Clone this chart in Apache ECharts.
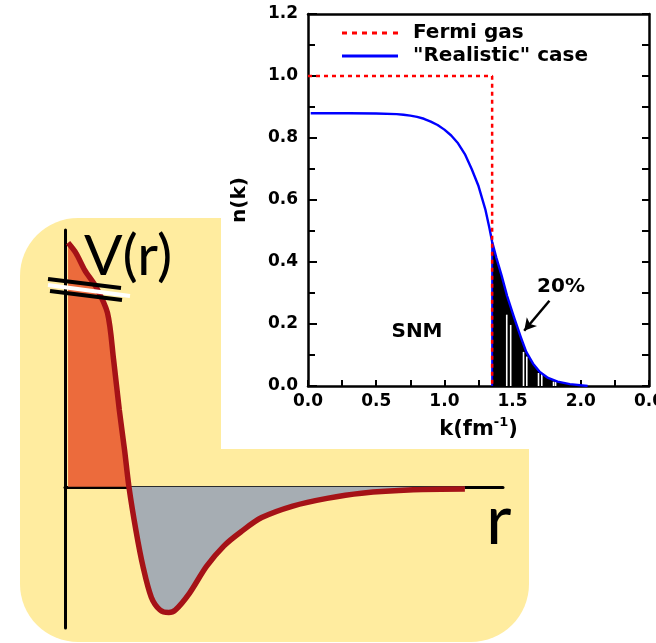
<!DOCTYPE html>
<html><head><meta charset="utf-8">
<script src="https://cdn.jsdelivr.net/npm/echarts@6/dist/echarts.min.js"></script>
<style>html,body{margin:0;padding:0;background:#fff;}#c{width:656px;height:643px;}</style>
</head><body><div id="c"></div>
<script>
// ---- n(k) panel data ----
const kValues = [0.02,0.3,0.5,0.65,0.70,0.75,0.80,0.85,0.90,0.95,1.00,1.05,1.10,1.15,1.20,1.25,1.30,1.33,1.35,1.38,1.42,1.46,1.51,1.56,1.60,1.65,1.70,1.76,1.83,1.92,2.05];
const nValues = [0.88,0.88,0.879,0.877,0.875,0.872,0.868,0.862,0.853,0.842,0.827,0.808,0.783,0.748,0.700,0.645,0.570,0.510,0.465,0.415,0.355,0.29,0.222,0.158,0.110,0.072,0.045,0.026,0.014,0.006,0.0];
const kFermi = 1.35;
const fermiK = [0, 1.35, 1.35];
const fermiN = [1, 1, 0];
const stripeK = [1.457,1.486,1.58,1.604,1.69,1.714,1.80,1.815];
const stripeN = [0.23,0.197,0.11,0.095,0.042,0.040,0.014,0.013];
const arrowFrom = [1.77, 0.275];
const arrowTo = [1.585, 0.178];
const xTickLabels = ['0.0','0.5','1.0','1.5','2.0','0.0'];
const yTickLabels = ['0.0','0.2','0.4','0.6','0.8','1.0','1.2'];
// ---- V(r) panel data (schematic) ----
const rValues = [0.07,0.25,0.45,0.71,0.97,1.11,1.24,1.36,1.46,1.62,1.78,1.97,2.17,2.37,2.52,2.84,3.23,3.63,4.02,4.49,5.2,5.98,6.77,7.95,9.13];
const vValues = [9.5,9.1,8.44,7.78,6.77,4.94,2.99,1.43,0,-1.7,-3.1,-4.3,-4.8,-4.9,-4.8,-4.15,-3.1,-2.3,-1.75,-1.2,-0.75,-0.45,-0.25,-0.12,-0.09];

const chart = echarts.init(document.getElementById('c'), null, {renderer:'canvas'});
const realistic = kValues.map((k,i)=>[k,nValues[i]]);
const tail = realistic.filter(p=>p[0]>=kFermi);
const iF = kValues.indexOf(kFermi);
const edge = [[kFermi,0],[kFermi,nValues[iF]]];
const fermi = fermiK.map((k,i)=>[k,fermiN[i]]);
const stripes = stripeK.map((k,i)=>[k,stripeN[i]]);
const pot = rValues.map((r,i)=>[r,vValues[i]]);
const potPos = pot.filter(p=>p[1]>=0);
const potNeg = pot.filter(p=>p[1]<=0);

const F = 'DejaVu Sans';
const axisLineStyle = {color:'#000', width:2.5};
const tickStyle = {color:'#000', width:2};
const dashIcon = 'path://M0,0h5v3h-5z M10,0h5v3h-5z M20,0h5v3h-5z M30,0h5v3h-5z M40,0h5v3h-5z M51,0h5v3h-5z';
const solidIcon = 'path://M0,0h56v3h-56z';

chart.setOption({
  animation:false,
  backgroundColor:'#fff',
  grid:[
    {left:308, top:14, width:341, height:372, outerBoundsMode:'none', containLabel:false},
    {left:65, top:230, width:438, height:398, outerBoundsMode:'none', containLabel:false}
  ],
  legend:{
    data:[{name:'Fermi gas', icon:dashIcon, itemStyle:{color:'#ff0000'}},
          {name:'"Realistic" case', icon:solidIcon, itemStyle:{color:'#0000ff'}}],
    orient:'vertical', left:342, top:23, padding:0,
    itemWidth:56, itemHeight:3, itemGap:3,
    formatter: name => '{t|' + name + '}',
    textStyle:{color:'#000', rich:{t:{fontFamily:F, fontWeight:'bold', fontSize:20, lineHeight:23, color:'#000', padding:[0,0,0,10]}}}
  },
  xAxis:[
    {gridIndex:0, type:'value', min:0, max:2.5, interval:0.5,
     axisLine:{onZero:false, lineStyle:axisLineStyle},
     axisTick:{inside:true, length:6, lineStyle:tickStyle},
     minorTick:{show:true, splitNumber:2, length:6, lineStyle:tickStyle},
     splitLine:{show:false},
     axisLabel:{formatter:v=>xTickLabels[Math.round(v/0.5)], color:'#000', fontFamily:F, fontWeight:'bold', fontSize:17, margin:7, hideOverlap:false},
     name:'{b|k(fm}{s|-1}{b|)}', nameLocation:'middle', nameGap:30,
     nameTextStyle:{rich:{
       b:{fontFamily:F, fontWeight:'bold', fontSize:21, color:'#000', lineHeight:28},
       s:{fontFamily:F, fontWeight:'bold', fontSize:13, color:'#000', verticalAlign:'top', lineHeight:14}
     }}
    },
    {gridIndex:0, type:'value', position:'top', min:0, max:2.5,
     axisLine:{onZero:false, lineStyle:axisLineStyle}, axisTick:{show:false}, axisLabel:{show:false}, splitLine:{show:false}},
    {gridIndex:1, type:'value', min:0, max:10,
     axisLine:{onZero:true, lineStyle:{color:'#000', width:3}}, axisTick:{show:false}, axisLabel:{show:false}, splitLine:{show:false}}
  ],
  yAxis:[
    {gridIndex:0, type:'value', min:0, max:1.2, interval:0.2,
     axisLine:{onZero:false, lineStyle:axisLineStyle},
     axisTick:{inside:true, length:9, lineStyle:tickStyle},
     minorTick:{show:true, splitNumber:2, length:7, lineStyle:tickStyle},
     splitLine:{show:false},
     axisLabel:{formatter:v=>yTickLabels[Math.round(v/0.2)], color:'#000', fontFamily:F, fontWeight:'bold', fontSize:17, margin:10},
     name:'n(k)', nameLocation:'middle', nameGap:58,
     nameTextStyle:{fontFamily:F, fontWeight:'bold', fontSize:20, color:'#000'}
    },
    {gridIndex:0, type:'value', position:'right', min:0, max:1.2, interval:0.1,
     axisLine:{onZero:false, lineStyle:axisLineStyle},
     axisTick:{inside:true, length:7, lineStyle:tickStyle},
     axisLabel:{show:false}, splitLine:{show:false}},
    {gridIndex:1, type:'value', min:-5.5, max:10,
     axisLine:{onZero:true, lineStyle:{color:'#000', width:3}}, axisTick:{show:false}, axisLabel:{show:false}, splitLine:{show:false}}
  ],
  series:[
    {type:'line', name:'tail', xAxisIndex:0, yAxisIndex:0, data:tail,
     symbol:'none', lineStyle:{width:0}, areaStyle:{color:'#000', opacity:1, origin:0}, z:2, silent:true},
    {type:'bar', name:'stripes', xAxisIndex:0, yAxisIndex:0, data:stripes, barWidth:1.6,
     itemStyle:{color:'#fff'}, z:3, silent:true},
    {type:'line', name:'edge', xAxisIndex:0, yAxisIndex:0, data:edge, symbol:'none',
     lineStyle:{color:'#0000ff', width:2}, z:4, silent:true},
    {type:'line', name:'"Realistic" case', xAxisIndex:0, yAxisIndex:0, data:realistic,
     symbol:'none', color:'#0000ff', lineStyle:{color:'#0000ff', width:2.4, join:'round'}, z:5,
     markLine:{silent:true, symbol:['none','arrow'], symbolSize:[10,12], label:{show:false},
       lineStyle:{color:'#000', width:2.5, type:'solid'},
       data:[[{coord:arrowFrom},{coord:arrowTo}]]}},
    {type:'line', name:'Fermi gas', xAxisIndex:0, yAxisIndex:0, data:fermi, symbol:'none',
     color:'#ff0000', lineStyle:{color:'#ff0000', width:2.5, type:[4,4]}, z:6},
    {type:'line', name:'Vpos', xAxisIndex:2, yAxisIndex:2, data:potPos, smooth:0.3, symbol:'none',
     lineStyle:{width:0}, areaStyle:{color:'#EC6B3C', opacity:1, origin:0}, z:2, silent:true},
    {type:'line', name:'Vneg', xAxisIndex:2, yAxisIndex:2, data:potNeg, smooth:0.3, symbol:'none',
     lineStyle:{width:0}, areaStyle:{color:'#A6ADB3', opacity:1, origin:0}, z:2, silent:true},
    {type:'line', name:'V', xAxisIndex:2, yAxisIndex:2, data:pot, smooth:0.3, symbol:'none',
     lineStyle:{color:'#A51217', width:5.5}, z:3, silent:true}
  ],
  graphic:[
    {type:'rect', shape:{x:20, y:218, width:509, height:424, r:58}, style:{fill:'#FFEC9F'}, z:-20, silent:true},
    {type:'rect', shape:{x:221, y:0, width:435, height:449}, style:{fill:'#fff'}, z:-10, silent:true},
    {type:'line', shape:{x1:48, y1:279, x2:121, y2:288}, style:{stroke:'#000', lineWidth:4}, z:100, silent:true},
    {type:'line', shape:{x1:48, y1:285, x2:130, y2:296}, style:{stroke:'#fff', lineWidth:4}, z:100, silent:true},
    {type:'line', shape:{x1:50, y1:291, x2:122, y2:300}, style:{stroke:'#000', lineWidth:4}, z:100, silent:true},
    {type:'text', x:84, y:257, style:{text:'V(r)', fill:'#000', font:'57px Lato', align:'left', verticalAlign:'middle'}, z:100},
    {type:'text', x:486, y:521, style:{text:'r', fill:'#000', font:'70px Lato', align:'left', verticalAlign:'middle'}, z:100},
    {type:'text', x:417, y:332, style:{text:'SNM', fill:'#000', font:'bold 20px "DejaVu Sans"', align:'center', verticalAlign:'middle'}, z:100},
    {type:'text', x:561, y:287, style:{text:'20%', fill:'#000', font:'bold 20px "DejaVu Sans"', align:'center', verticalAlign:'middle'}, z:100}
  ]
});
</script>
</body></html>
